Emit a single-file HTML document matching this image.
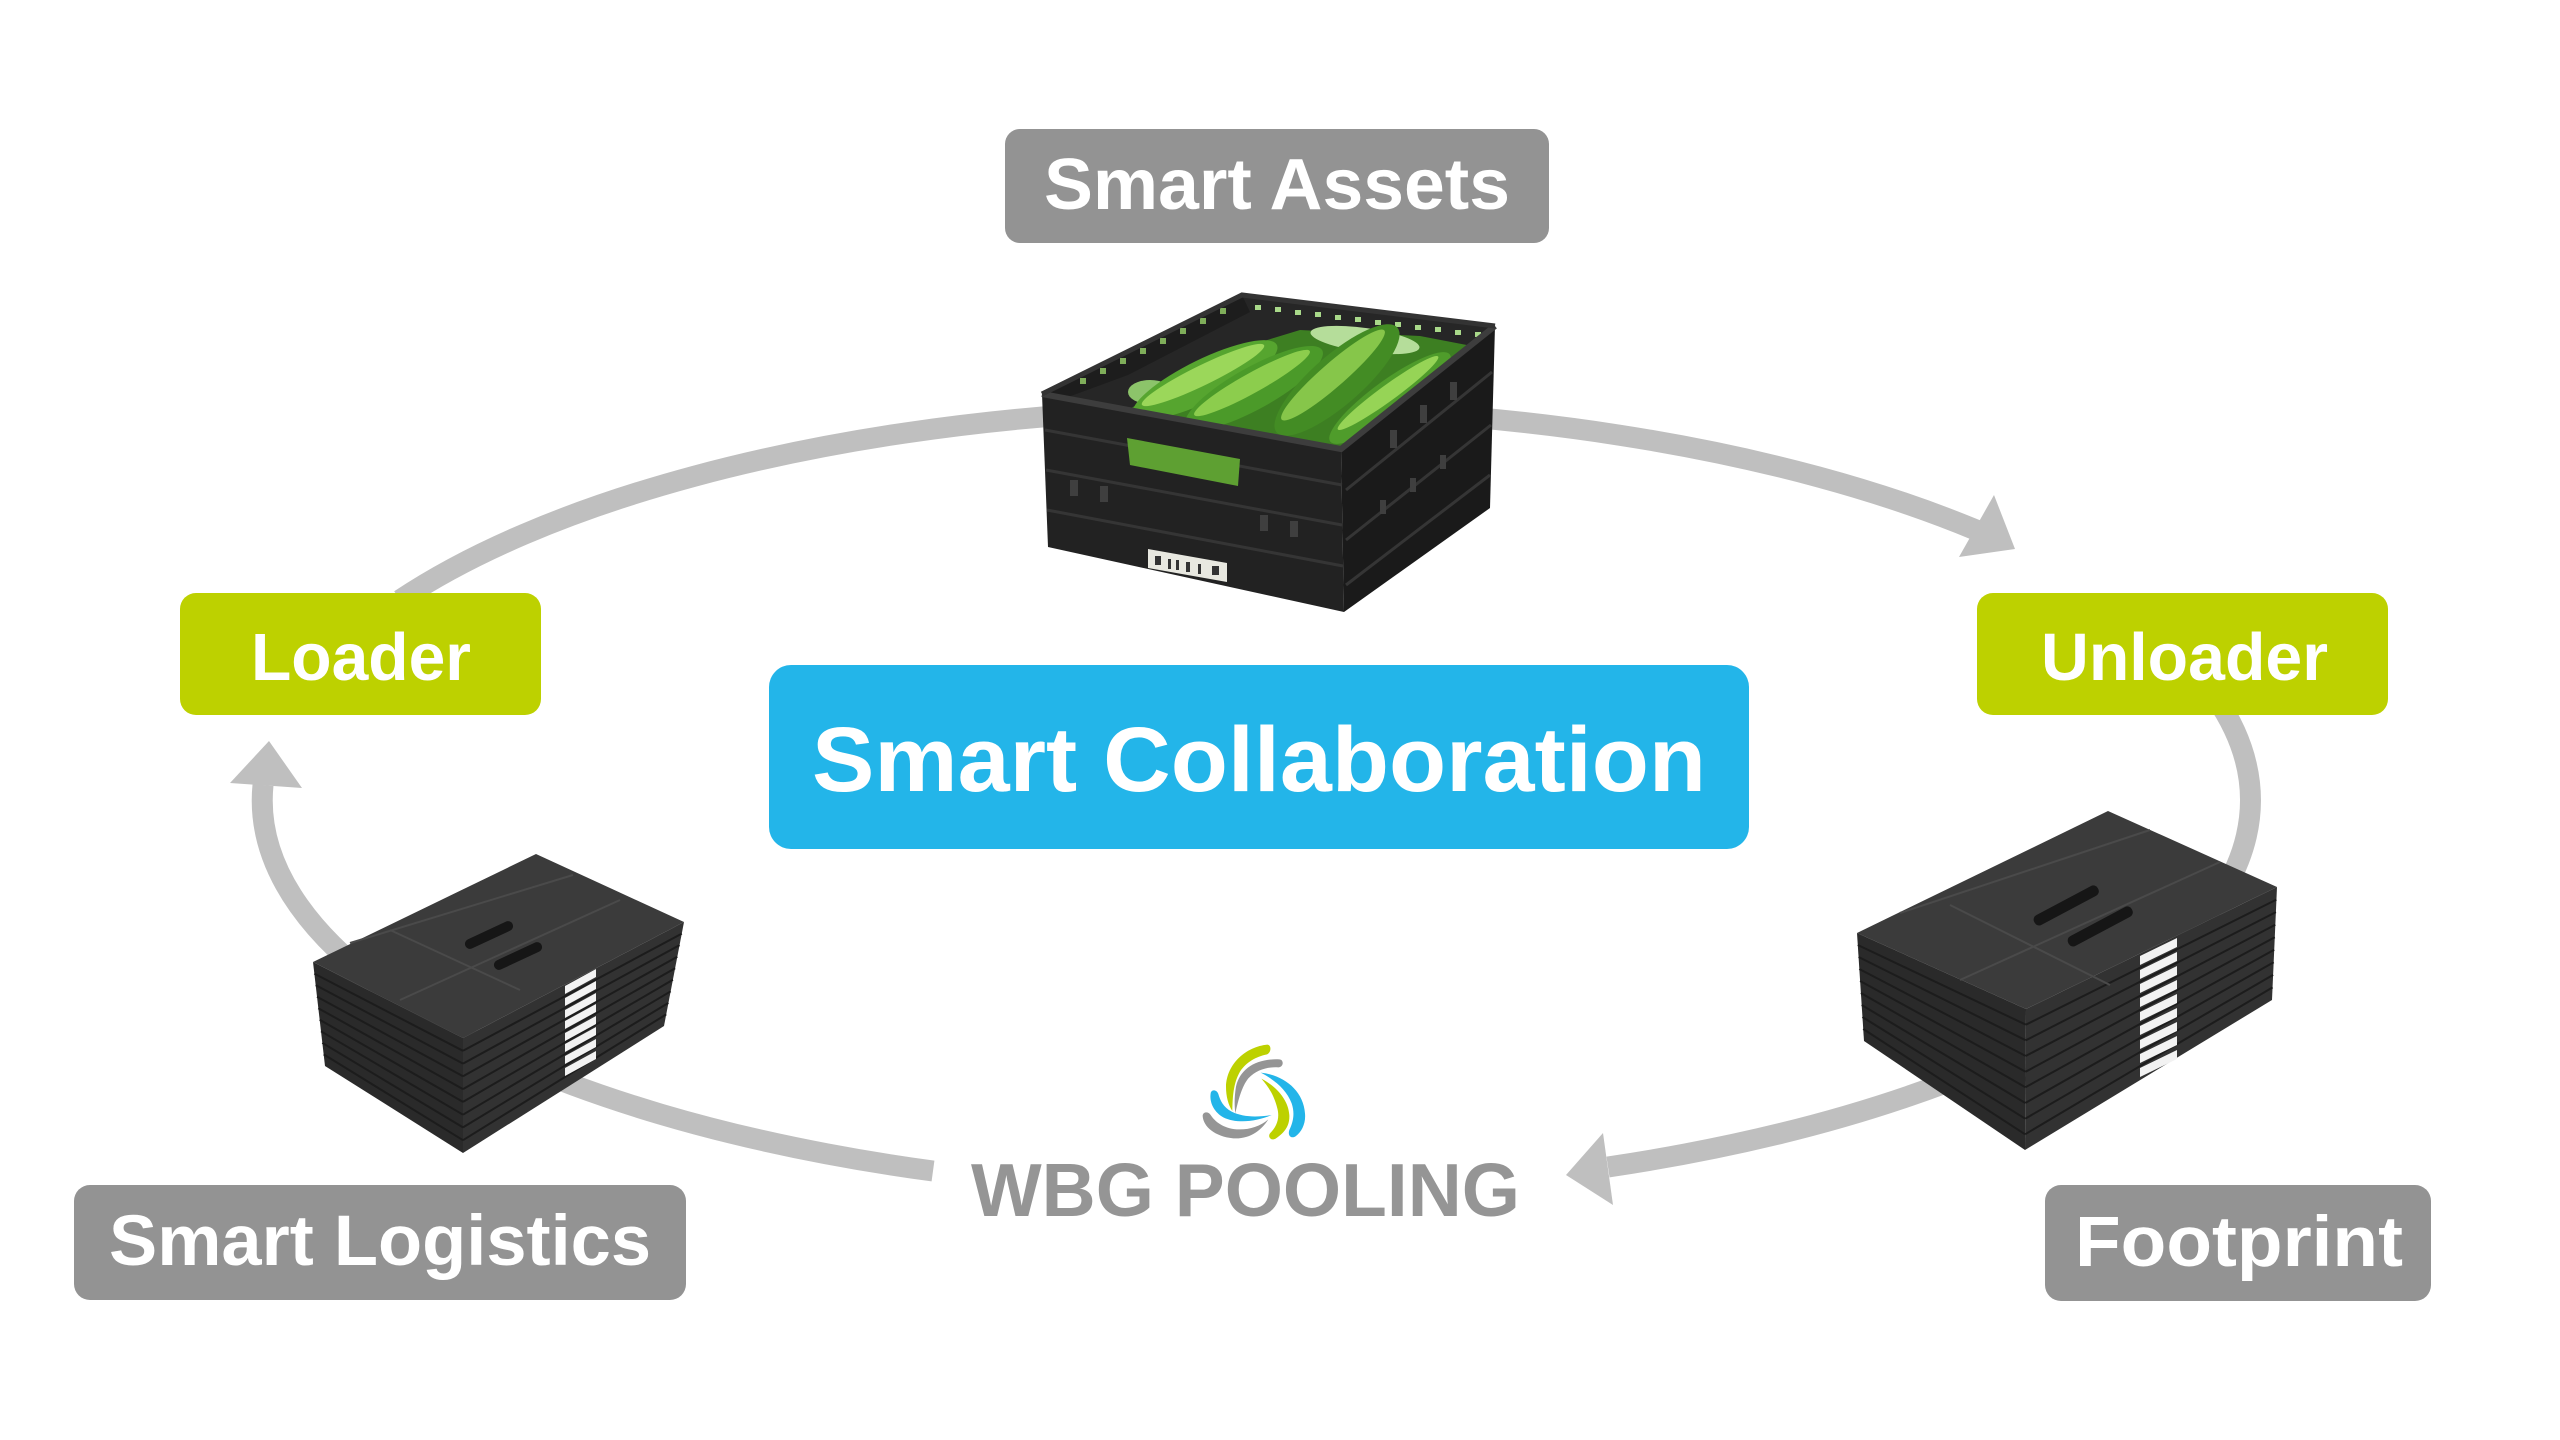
<!DOCTYPE html>
<html>
<head>
<meta charset="utf-8">
<style>
html,body{margin:0;padding:0;background:#ffffff;}
svg{display:block;}
text{font-family:"Liberation Sans",Arial,sans-serif;font-weight:bold;}
</style>
</head>
<body>
<svg width="2560" height="1440" viewBox="0 0 2560 1440" xmlns="http://www.w3.org/2000/svg">
<rect width="2560" height="1440" fill="#ffffff"/>

<!-- cycle arcs -->
<g fill="none" stroke="#BFBFBF" stroke-width="21">
  <path d="M400 600 A994 392 0 0 1 1976 530"/>
  <path d="M2216 698 A994 392 0 0 1 1608 1167"/>
  <path d="M933 1171 A994 392 0 0 1 263 785"/>
</g>
<g fill="#BFBFBF">
  <polygon points="2015,549 1994,495 1959,557"/>
  <polygon points="1566,1175 1603,1133 1613,1205"/>
  <polygon points="269,741 230,783 302,788"/>
</g>

<!-- crate with cucumbers -->
<g>
  <polygon points="1042,394 1242,295 1495,326 1341,449" fill="#262626"/>
  <!-- inner left wall lattice -->
  <polygon points="1042,394 1242,295 1250,312 1128,375 1060,400" fill="#1d1d1d"/>
  <g fill="#7fae5a">
    <rect x="1080" y="378" width="6" height="6"/><rect x="1100" y="368" width="6" height="6"/>
    <rect x="1120" y="358" width="6" height="6"/><rect x="1140" y="348" width="6" height="6"/>
    <rect x="1160" y="338" width="6" height="6"/><rect x="1180" y="328" width="6" height="6"/>
    <rect x="1200" y="318" width="6" height="6"/><rect x="1220" y="308" width="6" height="6"/>
  </g>
  <!-- back wall holes -->
  <g fill="#a9d98a">
    <rect x="1255" y="305" width="6" height="5"/><rect x="1275" y="307" width="6" height="5"/>
    <rect x="1295" y="310" width="6" height="5"/><rect x="1315" y="312" width="6" height="5"/>
    <rect x="1335" y="315" width="6" height="5"/><rect x="1355" y="317" width="6" height="5"/>
    <rect x="1375" y="320" width="6" height="5"/><rect x="1395" y="322" width="6" height="5"/>
    <rect x="1415" y="325" width="6" height="5"/><rect x="1435" y="327" width="6" height="5"/>
    <rect x="1455" y="330" width="6" height="5"/><rect x="1475" y="332" width="6" height="5"/>
  </g>
  <!-- green base -->
  <polygon points="1125,412 1215,356 1300,330 1420,336 1472,346 1400,402 1341,449 1200,426" fill="#3d7f22"/>
  <ellipse cx="1365" cy="340" rx="55" ry="12" transform="rotate(8 1365 340)" fill="#b5dd9a"/>
  <ellipse cx="1150" cy="392" rx="22" ry="12" fill="#8cc46a"/>
  <!-- cucumbers -->
  <g>
    <ellipse cx="1205" cy="380" rx="80" ry="21" transform="rotate(-26 1205 380)" fill="#56a52f"/>
    <ellipse cx="1203" cy="375" rx="68" ry="10" transform="rotate(-26 1203 375)" fill="#9bd75a"/>
    <ellipse cx="1254" cy="388" rx="78" ry="21" transform="rotate(-29 1254 388)" fill="#4b9a29"/>
    <ellipse cx="1252" cy="383" rx="66" ry="10" transform="rotate(-29 1252 383)" fill="#8ccd4d"/>
    <ellipse cx="1390" cy="398" rx="74" ry="18" transform="rotate(-36 1390 398)" fill="#4f9c2b"/>
    <ellipse cx="1388" cy="393" rx="62" ry="8" transform="rotate(-36 1388 393)" fill="#96d456"/>
    <ellipse cx="1337" cy="380" rx="80" ry="25" transform="rotate(-41 1337 380)" fill="#438c24"/>
    <ellipse cx="1333" cy="375" rx="68" ry="12" transform="rotate(-41 1333 375)" fill="#86c64a"/>
  </g>
  <!-- front face -->
  <polygon points="1042,394 1341,449 1344,612 1048,547" fill="#222222"/>
  <!-- right face -->
  <polygon points="1341,449 1495,326 1490,508 1344,612" fill="#1a1a1a"/>
  <!-- rim -->
  <polyline points="1042,394 1341,449 1495,326" fill="none" stroke="#3d3d3d" stroke-width="6"/>
  <polyline points="1042,394 1242,295 1495,326" fill="none" stroke="#333" stroke-width="5"/>
  <!-- ribs -->
  <g stroke="#353535" stroke-width="3">
    <line x1="1045" y1="430" x2="1342" y2="485"/>
    <line x1="1046" y1="470" x2="1342" y2="525"/>
    <line x1="1047" y1="510" x2="1343" y2="566"/>
    <line x1="1346" y1="490" x2="1492" y2="372"/>
    <line x1="1346" y1="540" x2="1491" y2="425"/>
    <line x1="1346" y1="585" x2="1490" y2="475"/>
  </g>
  <g fill="#3f3f3f">
    <rect x="1070" y="480" width="8" height="16"/><rect x="1100" y="486" width="8" height="16"/>
    <rect x="1260" y="515" width="8" height="16"/><rect x="1290" y="521" width="8" height="16"/>
    <rect x="1390" y="430" width="7" height="18"/><rect x="1420" y="405" width="7" height="18"/>
    <rect x="1450" y="382" width="7" height="18"/><rect x="1380" y="500" width="6" height="14"/>
    <rect x="1410" y="478" width="6" height="14"/><rect x="1440" y="455" width="6" height="14"/>
  </g>
  <!-- handle hole -->
  <polygon points="1127,438 1240,459 1238,486 1130,465" fill="#5ea032"/>
  <!-- label -->
  <polygon points="1148,549 1227,563 1227,582 1148,568" fill="#e8e8e0"/>
  <g fill="#333"><rect x="1155" y="556" width="6" height="9"/><rect x="1168" y="559" width="3" height="10"/><rect x="1176" y="560" width="3" height="10"/><rect x="1186" y="562" width="4" height="10"/><rect x="1198" y="564" width="3" height="10"/><rect x="1212" y="566" width="7" height="9"/></g>
</g>

<!-- left stack -->
<g>
  <polygon points="536,854 684,922 463,1038 313,962" fill="#3b3b3b"/>
  <polygon points="313,962 463,1038 463,1153 325,1066" fill="#2a2a2a"/>
  <polygon points="463,1038 684,922 664,1026 463,1153" fill="#323232"/>
  <g stroke="#1c1c1c" stroke-width="2">
    <line x1="314.3" y1="973.6" x2="463" y2="1050.8"/><line x1="315.7" y1="985.1" x2="463" y2="1063.6"/>
    <line x1="317" y1="996.7" x2="463" y2="1076.3"/><line x1="318.3" y1="1008.2" x2="463" y2="1089.1"/>
    <line x1="319.7" y1="1019.8" x2="463" y2="1101.9"/><line x1="321" y1="1031.3" x2="463" y2="1114.7"/>
    <line x1="322.3" y1="1042.9" x2="463" y2="1127.4"/><line x1="323.7" y1="1054.4" x2="463" y2="1140.2"/>
    <line x1="463" y1="1050.8" x2="681.8" y2="933.6"/><line x1="463" y1="1063.6" x2="679.6" y2="945.1"/>
    <line x1="463" y1="1076.3" x2="677.3" y2="956.7"/><line x1="463" y1="1089.1" x2="675.1" y2="968.2"/>
    <line x1="463" y1="1101.9" x2="672.9" y2="979.8"/><line x1="463" y1="1114.7" x2="670.7" y2="991.3"/>
    <line x1="463" y1="1127.4" x2="668.4" y2="1002.9"/><line x1="463" y1="1140.2" x2="666.2" y2="1014.4"/>
  </g>
  <g stroke="#4a4a4a" stroke-width="2">
    <line x1="350" y1="943" x2="573" y2="875"/>
    <line x1="400" y1="1000" x2="620" y2="900"/>
    <line x1="390" y1="930" x2="520" y2="990"/>
  </g>
  <g fill="#161616">
    <rect x="463" y="930" width="52" height="10" rx="5" transform="rotate(-25 489 935)"/>
    <rect x="492" y="951" width="52" height="10" rx="5" transform="rotate(-25 518 956)"/>
  </g>
  <g fill="#f2f2f2">
    <polygon points="565,986 596,969 596,977 565,994"/>
    <polygon points="565,998 596,981 596,989 565,1006"/>
    <polygon points="565,1010 596,993 596,1001 565,1018"/>
    <polygon points="565,1021 596,1004 596,1012 565,1029"/>
    <polygon points="565,1033 596,1016 596,1024 565,1041"/>
    <polygon points="565,1044 596,1027 596,1035 565,1052"/>
    <polygon points="565,1056 596,1039 596,1047 565,1064"/>
    <polygon points="565,1068 596,1051 596,1059 565,1076"/>
  </g>
</g>

<!-- right stack -->
<g>
  <polygon points="2108,811 2277,887 2026,1009 1857,933" fill="#3b3b3b"/>
  <polygon points="1857,933 2026,1009 2025,1150 1864,1041" fill="#2a2a2a"/>
  <polygon points="2026,1009 2277,887 2272,1000 2025,1150" fill="#323232"/>
  <g stroke="#1c1c1c" stroke-width="2">
    <line x1="1857.8" y1="945" x2="2025.9" y2="1024.7"/><line x1="1858.6" y1="957" x2="2025.8" y2="1040.3"/>
    <line x1="1859.3" y1="969" x2="2025.7" y2="1056"/><line x1="1860.1" y1="981" x2="2025.6" y2="1071.7"/>
    <line x1="1860.9" y1="993" x2="2025.4" y2="1087.3"/><line x1="1861.7" y1="1005" x2="2025.3" y2="1103"/>
    <line x1="1862.4" y1="1017" x2="2025.2" y2="1118.7"/><line x1="1863.2" y1="1029" x2="2025.1" y2="1134.3"/>
    <line x1="2025.9" y1="1024.7" x2="2276.4" y2="899.6"/><line x1="2025.8" y1="1040.3" x2="2275.9" y2="912.1"/>
    <line x1="2025.7" y1="1056" x2="2275.3" y2="924.7"/><line x1="2025.6" y1="1071.7" x2="2274.8" y2="937.2"/>
    <line x1="2025.4" y1="1087.3" x2="2274.2" y2="949.8"/><line x1="2025.3" y1="1103" x2="2273.7" y2="962.3"/>
    <line x1="2025.2" y1="1118.7" x2="2273.1" y2="974.9"/><line x1="2025.1" y1="1134.3" x2="2272.6" y2="987.4"/>
  </g>
  <g stroke="#4a4a4a" stroke-width="2">
    <line x1="1900" y1="913" x2="2150" y2="830"/>
    <line x1="1960" y1="980" x2="2220" y2="862"/>
    <line x1="1950" y1="905" x2="2110" y2="985"/>
  </g>
  <g fill="#161616">
    <rect x="2030" y="900" width="72" height="11" rx="5" transform="rotate(-28 2066 905)"/>
    <rect x="2064" y="921" width="72" height="11" rx="5" transform="rotate(-28 2100 926)"/>
  </g>
  <g fill="#f2f2f2">
    <polygon points="2140,956 2177,938 2177,947 2140,965"/>
    <polygon points="2140,970 2177,952 2177,961 2140,979"/>
    <polygon points="2140,984 2177,966 2177,975 2140,993"/>
    <polygon points="2140,998 2177,980 2177,989 2140,1007"/>
    <polygon points="2140,1012 2177,994 2177,1003 2140,1021"/>
    <polygon points="2140,1026 2177,1008 2177,1017 2140,1035"/>
    <polygon points="2140,1040 2177,1022 2177,1031 2140,1049"/>
    <polygon points="2140,1054 2177,1036 2177,1045 2140,1063"/>
    <polygon points="2140,1068 2177,1050 2177,1059 2140,1077"/>
  </g>
</g>

<!-- boxes -->
<rect x="1005" y="129" width="544" height="114" rx="15" fill="#939393"/>
<text x="1044" y="209" font-size="72" fill="#ffffff" textLength="466" lengthAdjust="spacingAndGlyphs">Smart Assets</text>

<rect x="180" y="593" width="361" height="122" rx="16" fill="#BDD100"/>
<text x="251" y="680" font-size="67" fill="#ffffff" textLength="220" lengthAdjust="spacingAndGlyphs">Loader</text>

<rect x="1977" y="593" width="411" height="122" rx="16" fill="#BDD100"/>
<text x="2041" y="680" font-size="67" fill="#ffffff" textLength="287" lengthAdjust="spacingAndGlyphs">Unloader</text>

<rect x="769" y="665" width="980" height="184" rx="22" fill="#23B5E9"/>
<text x="812" y="791" font-size="92" fill="#ffffff" textLength="894" lengthAdjust="spacingAndGlyphs">Smart Collaboration</text>

<rect x="74" y="1185" width="612" height="115" rx="16" fill="#939393"/>
<text x="109" y="1265" font-size="71" fill="#ffffff" textLength="542" lengthAdjust="spacingAndGlyphs">Smart Logistics</text>

<rect x="2045" y="1185" width="386" height="116" rx="16" fill="#939393"/>
<text x="2075" y="1266" font-size="71" fill="#ffffff" textLength="328" lengthAdjust="spacingAndGlyphs">Footprint</text>

<!-- WBG logo -->
<g transform="translate(1190,1030) scale(0.3333)">
  <path d="M232,44 C170,50 110,100 108,170 C108,200 115,225 127,243 C128,200 130,160 150,125 C170,95 200,80 228,74 C245,70 245,44 232,44 Z" fill="#BDD100"/>
  <path d="M268,88 C200,85 150,115 138,170 C133,200 133,225 136,250 C145,210 155,170 175,145 C200,118 235,110 265,112 C282,112 282,88 268,88 Z" fill="#959595"/>
  <path d="M212,128 C280,135 340,180 345,250 C348,280 335,305 318,318 C305,328 292,318 298,300 C310,275 315,250 305,220 C290,180 255,150 212,128 Z" fill="#23B5E9"/>
  <path d="M214,146 C260,170 295,210 298,255 C300,290 280,310 258,325 C245,334 232,322 240,310 C260,290 270,265 262,235 C252,195 235,170 214,146 Z" fill="#BDD100"/>
  <path d="M62,190 C58,215 70,245 100,262 C140,282 200,275 245,255 C200,262 160,262 125,245 C100,232 90,210 85,192 C80,178 64,178 62,190 Z" fill="#23B5E9"/>
  <path d="M38,258 C40,290 75,320 130,325 C180,328 215,300 235,268 C210,290 175,300 140,298 C100,295 75,275 62,255 C55,243 38,245 38,258 Z" fill="#959595"/>
</g>
<text x="971" y="1216" font-size="75" fill="#959595" textLength="549" lengthAdjust="spacingAndGlyphs">WBG POOLING</text>

</svg>
</body>
</html>
